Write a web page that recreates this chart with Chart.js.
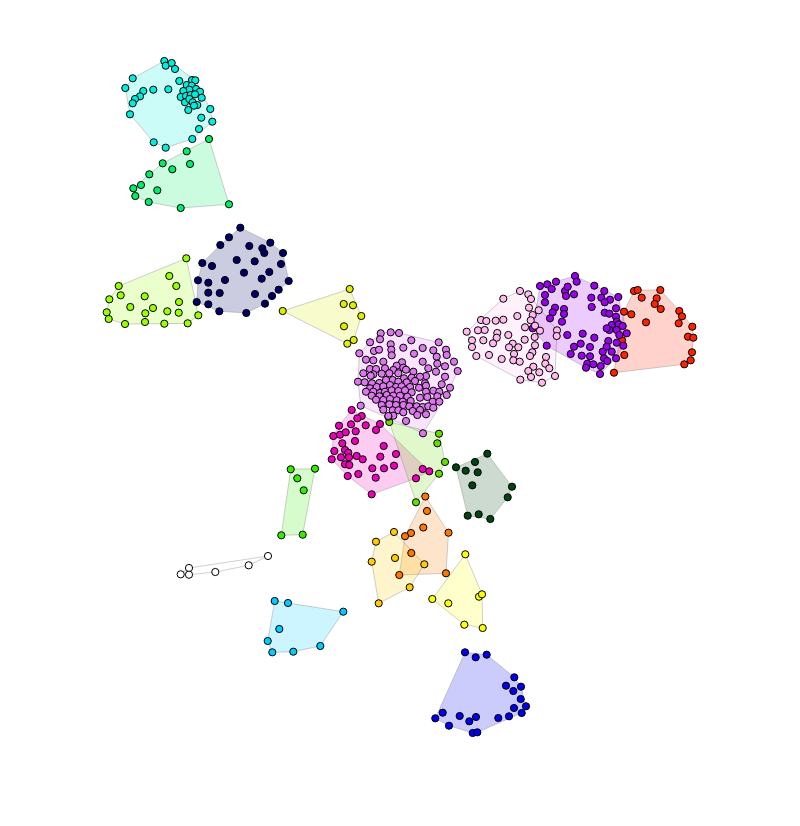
<!DOCTYPE html>
<html>
<head>
<meta charset="utf-8">
<script src="https://cdn.jsdelivr.net/npm/chart.js@4.4.0/dist/chart.umd.min.js"></script>
<style>
html,body{margin:0;padding:0;background:#fff;}
#wrap{width:800px;height:826px;}
</style>
</head>
<body>
<div id="wrap"><canvas id="c" width="800" height="826"></canvas></div>
<script>
// Layout coordinates of every node, grouped by community
const cyanGroup = [[164.3,61],[165.7,65.7],[171.7,63],[175,69],[132.7,78.3],[125.3,88],[143.3,91],[140,96.3],[135,99],[132.7,103.3],[153.3,89.7],[168.3,89.3],[179.3,81],[192,80],[195.3,80.3],[186.7,85],[191.7,85.7],[196,89],[189.3,89.7],[200,91.7],[183.3,91],[180.7,97],[186,96],[190.7,95],[195,94.3],[201.7,97.7],[185,102.3],[189.3,99],[192.7,102.3],[197.3,105],[194,105.7],[188.3,110],[210.3,109],[130,114.3],[201.3,117.7],[212.3,121.7],[199,129],[153.7,142.3],[165.7,147.7],[192.3,139]];
const mintGroup = [[209,139],[186.7,151.3],[162.7,163.3],[190,164],[172.3,169.3],[149.3,174.3],[141,185],[133.3,188.3],[157.3,190.3],[135.3,196],[148.7,202],[180.7,208],[229,204.3]];
const navyGroup = [[240.3,227.7],[229,237.3],[220.3,245],[249.3,246],[262.3,248.3],[270.3,242.7],[264.3,253],[283,253],[202.3,263],[212,266],[236.7,260],[254.7,261.3],[281,264],[244,272.7],[269.3,272],[198,280.3],[208.3,282.7],[225,280],[261.7,278.7],[288.7,281],[278.7,289.7],[208.3,292.7],[219.7,293],[255,294],[272,296],[196.7,302],[208.3,304.3],[265,303.7],[219.3,311.3],[246.3,313]];
const chartreuseGroup = [[186.3,258.3],[169.3,276],[176.3,286],[118.7,286],[120.7,295.3],[109.3,299.3],[144.7,296.3],[179,302],[130.3,307],[153,308],[106.7,312.3],[145.3,313.3],[167.3,311.3],[178.7,312.7],[198.3,315.3],[108.7,319],[145,322],[164.3,323.7],[187.7,323.3],[125,324]];
const yellowGreenGroup = [[282.7,311],[349.7,289],[343.7,304],[353,305.3],[361.3,316],[344,326.3],[353.7,340],[347.3,343.7]];
const violetGroup = [[380.7,333.3],[390.7,332.3],[399,333],[380,339.3],[370,342.3],[390.7,344.3],[411.3,340.3],[438.7,342.3],[359.3,353.3],[374,351],[379,349.7],[391.3,349.7],[403.3,347.7],[422.7,348],[433.3,350.3],[446,349.7],[391.7,355.3],[414,353.7],[436.7,356.7],[446.7,355],[366,359.7],[373.3,360.3],[383.3,361.7],[402,362.3],[422.7,361.7],[454,361.7],[396.7,365.7],[403.3,367.7],[437.3,363.7],[445,366.3],[370,369],[376,369],[385,368.3],[393.3,370],[406,369.7],[413.3,371.7],[428.3,368.3],[436,371.7],[457.7,371],[363.3,373.3],[373.3,374.3],[381.7,373.7],[389.3,373.3],[398.3,373.3],[370.7,375.7],[426,376],[445,376.7],[404,378.3],[411.7,377.7],[420,376.7],[392.7,380],[358,381.7],[364.7,382.3],[372,383.3],[379.3,383],[386,380],[398.3,381.7],[406.7,382.3],[415,381],[441.7,384.3],[425,383.3],[370,388.3],[376.7,387],[383.3,386.3],[390,385],[396,387],[401.7,386.3],[410,387],[419,387.7],[426,385.7],[433.3,390.7],[450,387.7],[366,391.7],[373.3,391.7],[380,393],[385,391.7],[391.7,390.3],[398.3,391],[405,390.3],[411.7,392.3],[426,391.7],[439.3,391.7],[446.7,395],[371.7,395.7],[379.3,396.3],[386.7,395],[393.3,395.7],[400,395.7],[407.3,396.7],[420,397.7],[427.3,397],[437.3,396.3],[376,399.7],[383.3,400],[390,399],[396.7,400.3],[402.7,401.7],[410.7,401],[432.7,401.7],[439.3,401.7],[381.7,405],[389.3,404.3],[396,405],[403.3,405],[409.3,406.3],[416.7,406.3],[422.7,407],[428.3,406.3],[433.3,407.7],[360.7,405.7],[383.3,409.7],[392.7,410.3],[398.3,410.3],[403.3,412.3],[412.7,411],[420,410],[426,414.3],[417.3,415],[393.3,415.7],[406,421],[388.3,416.7],[388.3,416],[423,433.3]];
const pinkGroup = [[520,291],[503.3,298.7],[528.3,294.3],[531,299],[529,307.7],[538.7,310.3],[517.3,316],[532.7,315],[530.7,320.3],[481,320],[486.3,321],[495.7,320.7],[503.3,319.7],[525,327.3],[535,325.7],[466.7,331.7],[478,330.3],[484.7,330],[497.3,333],[540,330.7],[557,330.3],[556.7,336],[508.3,335],[496.7,337.7],[534.7,337],[472,340.3],[483.3,340.3],[524.7,339.7],[493,343.3],[512.7,343.7],[509,347.3],[518.3,347.3],[535,345.3],[472,347],[532.3,352.3],[514,354],[530,356],[476.3,356],[489,355],[501.7,359],[513.3,360.3],[519.7,361.7],[546,357],[545.3,363.7],[533.3,366.7],[549.3,368.3],[528.3,371],[539.3,372.3],[531,377],[555,376],[520.3,379.7],[542,382.7]];
const purpleGroup = [[575,276],[540,286],[547.3,284.3],[556,281.7],[551.7,289],[576.7,281.7],[565,291],[567.7,286.7],[545,295],[566,296],[574,294.3],[594.3,285.7],[604.3,291],[591.3,297.7],[601.3,297.7],[610,299.7],[618.3,297],[604.7,302.3],[545,302.3],[555,307.7],[564,309],[591.7,307],[616,308.3],[552.7,312.3],[564,314],[604.7,312.7],[609.3,313.7],[616,316.7],[550,318.3],[562,321.7],[616.7,321.7],[611.7,325],[618.7,324.3],[622.7,326],[609.3,330],[616.7,330],[606.7,328.3],[532.7,328.3],[567.3,335],[582.7,333.7],[594.3,337.7],[626.7,333.3],[619.3,335],[608.3,341],[616.7,342.7],[623.3,345.7],[546.7,345.7],[580.7,343.7],[574,346.7],[590,347],[606.7,346.7],[602.7,351.7],[611.7,351.7],[570.7,354],[581.7,355.7],[590,356.3],[604,358.3],[616,358.3],[607.3,361],[587.3,363.7],[593.3,364.3],[600.7,366],[586,367.7],[600,374]];
const redGroup = [[634,291],[637.7,290],[660.3,290],[641.7,297.7],[656.7,298.3],[654.7,304],[660.7,309],[624,311.7],[631.3,314.3],[679.3,311],[682,316.3],[646,322.3],[678.7,323.3],[692.3,326.7],[688,336.7],[693.3,337.7],[622,340.3],[624.3,355],[692,352.3],[690.7,360.3],[684.3,364.3],[614,372.7]];
const magentaGroup = [[351.7,410],[361.7,416],[357.3,418.3],[339,425.7],[351,424.3],[365.7,425.3],[380,424],[333.3,436],[340,434.7],[345.7,432.3],[355.7,431.3],[376,430],[342.3,443.3],[355,441],[383.7,446],[334.3,451],[345,450],[348.3,452.7],[331.7,459.3],[341,457.3],[349,457.3],[356.7,456],[362.7,459.3],[380.3,456.7],[396,454],[345,464.3],[349.3,465],[372.3,468.3],[384,468.3],[394,465.7],[422.7,469],[429.3,471.3],[358.3,474],[347.7,476],[375.7,477.7],[416,478.3],[371.7,494.3]];
const lightGreenGroup = [[389.3,422],[439,433.7],[437.3,443.3],[445,462],[439,473.7],[416,502.3]];
const limeGroup = [[290.7,469.3],[315,468.7],[297.3,478.3],[303.7,490.3],[281.3,535.3],[302.7,534.7]];
const darkGreenGroup = [[487.3,453.7],[475,462],[456,467.3],[465.7,470.7],[477.7,472.3],[472.3,485.3],[512,486.7],[507.7,497.3],[467.7,515.7],[478.7,514.3],[490.3,519]];
const orangeGroup = [[425.3,496.5],[427,511],[423.3,527.5],[411,533],[405,536.2],[448.5,532.7],[411.3,553],[399.3,575],[446,573.3]];
const goldGroup = [[394,532],[376,541.7],[395,558],[371.7,561.7],[424.3,564.3],[409.7,587.3],[378.7,603.3]];
const yellowGroup = [[465.3,554.3],[432.3,599],[448.3,603.3],[479,596.7],[482,594.3],[464.3,624.7],[482.7,628]];
const whiteGroup = [[268,556],[248.7,565.3],[189,568],[215.3,572],[180.7,574.3],[189,574.7]];
const skyGroup = [[274.7,601],[288,603],[343.3,611.7],[279.3,629],[267.7,641],[320.3,646],[272.3,652.3],[293.3,651.7]];
const blueGroup = [[465,652.3],[475.7,657.3],[486.7,654.7],[514.3,677.3],[506,685.7],[521,686.7],[513.3,691],[520.7,699],[526,706.3],[514,708],[521.7,713],[442.7,712.7],[435.3,718.3],[459.7,716],[476,717],[469.3,721.3],[498.3,718],[509,716.3],[449,725.7],[472.7,733],[477.3,732.3]];

const groups = [cyanGroup, mintGroup, navyGroup, chartreuseGroup, yellowGreenGroup, violetGroup, pinkGroup, purpleGroup, redGroup, magentaGroup, lightGreenGroup, limeGroup, darkGreenGroup, orangeGroup, goldGroup, yellowGroup, whiteGroup, skyGroup, blueGroup];
const colors = ['#00eedd','#00ee66','#000066','#99ff00','#ddee00','#dd77ee','#ffbbee','#9900ee','#ff2200','#ee00bb','#66dd00','#33ee00','#004411','#ff7700','#ffcc00','#ffff00','#ffffff','#00ccff','#0000ee'];

function hexA(h, a){
  const r=parseInt(h.substr(1,2),16), g=parseInt(h.substr(3,2),16), b=parseInt(h.substr(5,2),16);
  return 'rgba('+r+','+g+','+b+','+a+')';
}
function hull(pts){
  const p = pts.slice().sort((a,b)=>a[0]-b[0]||a[1]-b[1]);
  if (p.length<3) return p;
  const cr=(o,a,b)=>(a[0]-o[0])*(b[1]-o[1])-(a[1]-o[1])*(b[0]-o[0]);
  const lo=[];for(const q of p){while(lo.length>=2&&cr(lo[lo.length-2],lo[lo.length-1],q)<=0)lo.pop();lo.push(q);}
  const up=[];for(let i=p.length-1;i>=0;i--){const q=p[i];while(up.length>=2&&cr(up[up.length-2],up[up.length-1],q)<=0)up.pop();up.push(q);}
  up.pop();lo.pop();return lo.concat(up);
}
const hullPlugin = {
  id:'hulls',
  beforeDatasetsDraw(chart){
    const ctx=chart.ctx, xs=chart.scales.x, ys=chart.scales.y;
    chart.data.datasets.forEach((ds,i)=>{
      const px = ds.data.map(d=>[xs.getPixelForValue(d.x), ys.getPixelForValue(d.y)]);
      const h = hull(px);
      ctx.save();
      ctx.beginPath();
      h.forEach((q,k)=>{ if(k===0) ctx.moveTo(q[0],q[1]); else ctx.lineTo(q[0],q[1]); });
      ctx.closePath();
      ctx.fillStyle = hexA(colors[i], 0.2);
      ctx.fill();
      ctx.strokeStyle = 'rgba(120,120,120,0.35)';
      ctx.lineWidth = 1;
      ctx.stroke();
      ctx.restore();
    });
  }
};

new Chart(document.getElementById('c'), {
  type:'scatter',
  data:{
    datasets: groups.map((g,i)=>({
      data: g.map(p=>({x:p[0], y:p[1]})),
      backgroundColor: colors[i],
      borderColor: '#000000',
      borderWidth: 1,
      pointRadius: 3.6,
      pointHoverRadius: 3.6
    }))
  },
  options:{
    responsive:false,
    animation:false,
    devicePixelRatio:1,
    layout:{padding:0, autoPadding:false},
    plugins:{legend:{display:false}, tooltip:{enabled:false}},
    scales:{
      x:{type:'linear', min:0, max:800, display:false},
      y:{type:'linear', min:0, max:826, reverse:true, display:false}
    }
  },
  plugins:[hullPlugin]
});
</script>
</body>
</html>
